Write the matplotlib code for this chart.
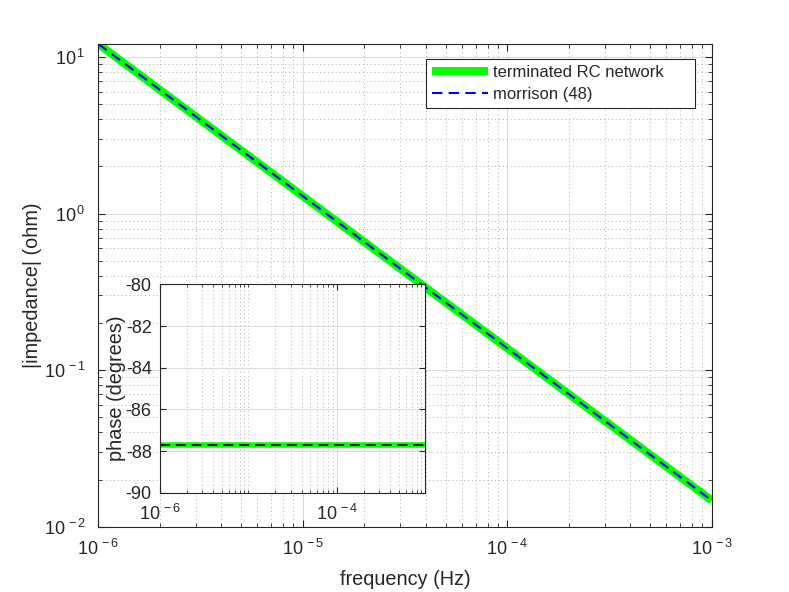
import matplotlib
matplotlib.use("Agg")
import matplotlib.pyplot as plt
import matplotlib.ticker as mticker
import numpy as np

plt.rcParams['font.family'] = ['Liberation Sans', 'DejaVu Sans']
plt.rcParams['mathtext.fontset'] = 'custom'
plt.rcParams['mathtext.rm'] = 'Liberation Sans'
plt.rcParams['mathtext.it'] = 'Liberation Sans'
plt.rcParams['axes.unicode_minus'] = False

# data
freq = [1e-6, 1e-3]
impedance_rc = [12.1, 0.0147]
impedance_morrison = [12.1, 0.0147]
phase_rc = [-87.7, -87.7]
phase_morrison = [-87.7, -87.7]

main_xticks = [1e-6, 1e-5, 1e-4, 1e-3]
main_yticks = [1e-2, 1e-1, 1e0, 1e1]
inset_xticks = [1e-6, 1e-4]
inset_yticks = [-90, -88, -86, -84, -82, -80]

DARK = '#262626'
GRID_MAJOR = '#dcdcdc'
GRID_MINOR = '#b0b0b0'
TICK_FS = 13
LABEL_FS = 14.3
LEG_FS = 12

def pow_fmt(v, pos):
    e = int(round(np.log10(v)))
    return r'$\mathregular{10^{\,%d}}$' % e

fig = plt.figure(figsize=(7.89, 5.92), dpi=100)
ax = fig.add_axes([0.1246, 0.1103, 0.7776, 0.8154])

ax.loglog(freq, impedance_rc, color=(0, 1, 0), lw=5.8, label='terminated RC network', solid_capstyle='butt')
ax.loglog(freq, impedance_morrison, color=(0, 0, 1), lw=1.5, dashes=(5, 3), label='morrison (48)')

ax.set_xlim(1e-6, 1e-3)
ax.set_ylim(1e-2, 12.1)
ax.set_xticks(main_xticks)
ax.set_yticks(main_yticks)
ax.xaxis.set_major_formatter(mticker.FuncFormatter(pow_fmt))
ax.yaxis.set_major_formatter(mticker.FuncFormatter(pow_fmt))
ax.xaxis.set_minor_locator(mticker.LogLocator(base=10, subs=np.arange(2, 10)))
ax.yaxis.set_minor_locator(mticker.LogLocator(base=10, subs=np.arange(2, 10)))
ax.xaxis.set_minor_formatter(mticker.NullFormatter())
ax.yaxis.set_minor_formatter(mticker.NullFormatter())

ax.grid(True, which='major', color=GRID_MAJOR, lw=0.8, ls='-')
ax.grid(True, which='minor', color=GRID_MINOR, lw=0.7, ls=(0, (1, 3)))
ax.set_axisbelow(True)
ax.tick_params(which='both', direction='in', top=True, right=True, colors=DARK, labelsize=TICK_FS)
ax.tick_params(which='major', length=5, width=0.8)
ax.tick_params(which='minor', length=3, width=0.6)
ax.tick_params(axis='x', pad=9)
ax.tick_params(axis='y', pad=9)
for s in ax.spines.values():
    s.set_color(DARK)
    s.set_linewidth(0.8)

ax.set_xlabel('frequency (Hz)', fontsize=LABEL_FS, color=DARK, labelpad=8)
ax.set_ylabel('|impedance| (ohm)', fontsize=LABEL_FS, color=DARK, labelpad=1)

leg = ax.legend(loc='upper left', bbox_to_anchor=(0.534, 0.8696, 0.4385, 0.0994),
                mode='expand', borderaxespad=0,
                fontsize=LEG_FS, handlelength=3.4, handletextpad=0.3, fancybox=False,
                framealpha=1, edgecolor=DARK, borderpad=0.35, labelspacing=0.45)
leg.get_frame().set_linewidth(0.8)
for t in leg.get_texts():
    t.set_color(DARK)

# inset
ai = fig.add_axes([0.2028, 0.1677, 0.3363, 0.352])
ai.semilogx(freq, phase_rc, color=(0, 1, 0), lw=4, solid_capstyle='butt')
ai.semilogx(freq, phase_morrison, color='k', lw=1.2, dashes=(6, 3.5))
ai.set_xlim(1e-6, 1e-3)
ai.set_ylim(-90, -80)
ai.set_xticks(inset_xticks)
ai.set_yticks(inset_yticks)
ai.xaxis.set_major_formatter(mticker.FuncFormatter(pow_fmt))
ai.xaxis.set_minor_locator(mticker.FixedLocator(
    [m * 10.0 ** e for e in (-6, -5, -4) for m in range(2, 10)] + [1e-5]))
ai.xaxis.set_minor_formatter(mticker.NullFormatter())
ai.grid(True, which='major', color=GRID_MAJOR, lw=0.8, ls='-')
ai.grid(True, which='minor', axis='x', color=GRID_MINOR, lw=0.7, ls=(0, (1, 3)))
ai.set_axisbelow(True)
ai.tick_params(which='both', direction='in', top=True, right=True, colors=DARK, labelsize=TICK_FS)
ai.tick_params(which='major', length=4, width=0.8)
ai.tick_params(which='minor', length=2.5, width=0.6)
ai.tick_params(axis='x', pad=8)
ai.tick_params(axis='y', pad=6)
for s in ai.spines.values():
    s.set_color(DARK)
    s.set_linewidth(0.8)
ai.set_ylabel('phase (degrees)', fontsize=LABEL_FS, color=DARK, labelpad=0)

fig.savefig('out.png', dpi=100)
